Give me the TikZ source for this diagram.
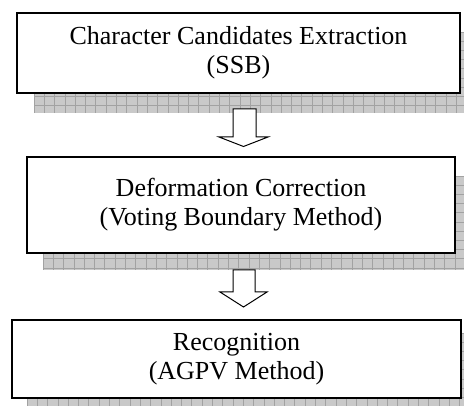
\documentclass[tikz,border=0pt]{standalone}
\usepackage{fontspec}
\setmainfont{Liberation Serif}
\usetikzlibrary{calc}
\definecolor{shadowgray}{HTML}{C9C9C9}
\definecolor{gridgray}{HTML}{A2A2A2}
\begin{document}
\begin{tikzpicture}[x=1pt,y=1pt,
  box/.style={draw, line width=1.8pt, fill=white, align=center, inner sep=0pt,
              font=\fontsize{26}{29}\selectfont},
  shadowfill/.style={fill=shadowgray},
  shadowgrid/.style={draw=gridgray, line width=0.7pt},
  blockarrow/.style={draw, line width=1pt, fill=white, line join=miter}]
\useasboundingbox (0,0) rectangle (464,405);
\begin{scope}
\clip (0,0) rectangle (464,405);
% shadows
\foreach \xa/\ya/\xb/\yb in {34/292/470/373, 43/135/470/229, 27/-5/470/72}{
  \fill[shadowfill] (\xa,\ya) rectangle (\xb,\yb);
  \begin{scope}
    \clip (\xa,\ya) rectangle (\xb,\yb);
    \begin{scope}[shift={(\xa,\yb)}]
      \draw[shadowgrid, xstep=10.3pt, ystep=9.2pt] (0,-120) grid (440,0);
    \end{scope}
  \end{scope}
}
\end{scope}
% boxes
\node[box, minimum width=443pt, minimum height=80pt] (b1) at (238.5,352)
  {Character Candidates Extraction\\(SSB)};
\node[box, minimum width=428pt, minimum height=96pt] (b2) at (241,200)
  {Deformation Correction\\(Voting Boundary Method)};
\node[box, minimum width=449pt, minimum height=78pt] (b3) at (236.5,46)
  {Recognition\\(AGPV Method)};
% block arrows
\coordinate (a1) at (243.5,296);
\coordinate (a2) at (243.5,135);
\draw[blockarrow] ($(a1)+(-10.5,0)$) -- ($(a1)+(12.5,0)$) -- ($(a1)+(12.5,-28)$)
  -- ($(a1)+(24.5,-28)$) -- ($(a1)+(0,-37.5)$) -- ($(a1)+(-24.5,-28)$)
  -- ($(a1)+(-10.5,-28)$) -- cycle;
\draw[blockarrow] ($(a2)+(-10.5,0)$) -- ($(a2)+(11.5,0)$) -- ($(a2)+(11.5,-22)$)
  -- ($(a2)+(23.5,-22)$) -- ($(a2)+(0,-37)$) -- ($(a2)+(-23.5,-22)$)
  -- ($(a2)+(-10.5,-22)$) -- cycle;
\end{tikzpicture}
\end{document}
